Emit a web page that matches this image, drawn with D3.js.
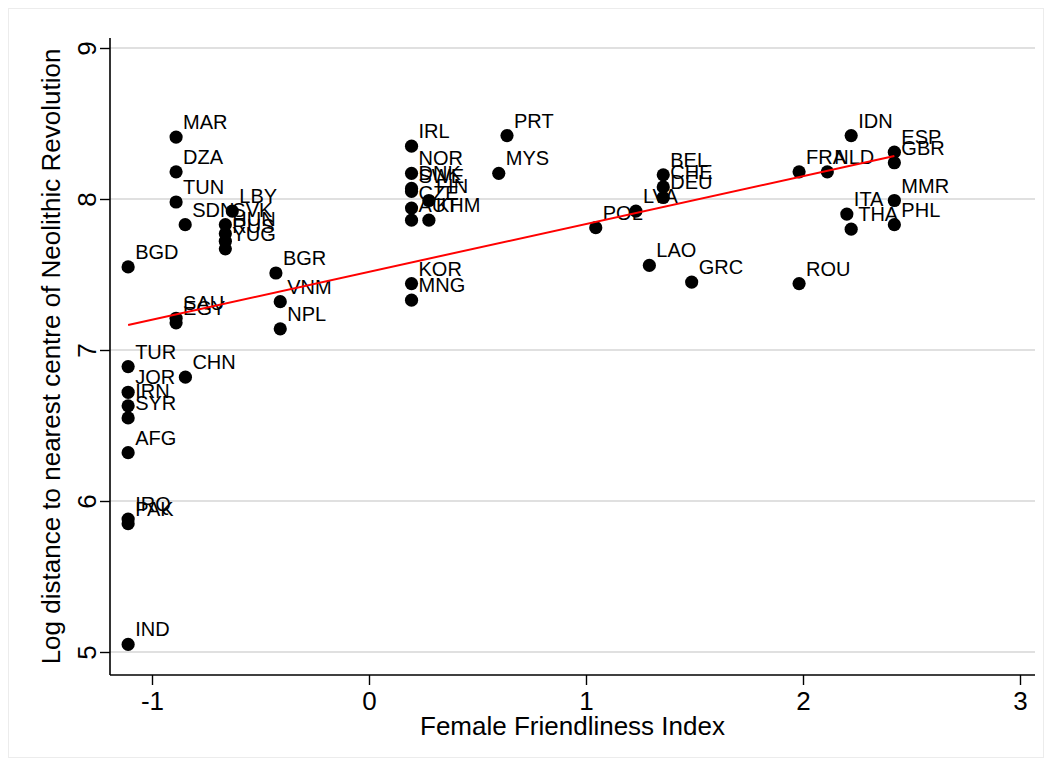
<!DOCTYPE html>
<html><head><meta charset="utf-8">
<script src="https://cdn.jsdelivr.net/npm/d3@7"></script>
<style>
html,body{margin:0;padding:0;background:#fff;}
svg{display:block;font-family:"Liberation Sans",Arial,Helvetica,sans-serif;}
</style></head>
<body>
<svg id="chart" width="1052" height="766"></svg>
<script>
// Country codes, Female Friendliness Index (x), log distance (y)
const countries = ["MAR","DZA","TUN","SDN","LBY","SVK","HUN","RUS","YUG","BGD","SAU","EGY","BGR","VNM","NPL",
  "TUR","JOR","IRN","SYR","AFG","CHN","IRQ","PAK","IND",
  "IRL","NOR","DNK","SWE","FIN","CZE","AUT","KHM","KOR","MNG","PRT","MYS",
  "POL","LVA","BEL","CHE","DEU","LAO","GRC","FRA","NLD","IDN","ESP","GBR","ITA","THA","MMR","PHL","ROU"];
const femaleFriendliness = [-0.889,-0.889,-0.889,-0.847,-0.63,-0.662,-0.662,-0.662,-0.662,-1.11,-0.889,-0.889,-0.429,-0.409,-0.409,
  -1.11,-1.11,-1.11,-1.11,-1.11,-0.846,-1.11,-1.11,-1.11,
  0.196,0.196,0.196,0.196,0.276,0.196,0.196,0.276,0.196,0.196,0.636,0.598,
  1.045,1.23,1.356,1.356,1.356,1.292,1.487,1.982,2.112,2.222,2.421,2.421,2.202,2.222,2.421,2.421,1.982];
const logDistance = [8.41,8.18,7.98,7.83,7.92,7.83,7.77,7.72,7.67,7.55,7.21,7.18,7.51,7.32,7.14,
  6.89,6.72,6.63,6.55,6.32,6.82,5.88,5.85,5.05,
  8.35,8.17,8.07,8.05,7.99,7.94,7.86,7.86,7.44,7.33,8.42,8.17,
  7.81,7.92,8.16,8.08,8.01,7.56,7.45,8.18,8.18,8.42,8.31,8.24,7.90,7.80,7.99,7.83,7.44];
// fitted line endpoints
const fitX = [-1.11, 2.421];
const fitY = [7.166, 8.285];
const xTicks = [-1, 0, 1, 2, 3];
const yTicks = [5, 6, 7, 8, 9];
const xTitle = "Female Friendliness Index";
const yTitle = "Log distance to nearest centre of Neolithic Revolution";

const svg = d3.select("#chart");
const L = 110, R = 1035, T = 38, B = 675;

const x = d3.scaleLinear().domain([-1, 3]).range([152, 1020]);
const y = d3.scaleLinear().domain([5, 9]).range([652, 48]);

// outer frame
svg.append("rect").attr("x", 8.5).attr("y", 8.5).attr("width", 1035).attr("height", 749)
  .attr("fill", "#fff").attr("stroke", "#ececec").attr("stroke-width", 1);

// gridlines
svg.append("g").selectAll("line").data(yTicks).join("line")
  .attr("x1", L).attr("x2", R).attr("y1", d => y(d)).attr("y2", d => y(d))
  .attr("stroke", "#d6d6d6").attr("stroke-width", 1.6);

// axes
const gx = svg.append("g").attr("transform", `translate(0,${B})`)
  .call(d3.axisBottom(x).tickValues(xTicks).tickSize(10).tickPadding(6).tickFormat(d3.format("d")));
gx.select(".domain").remove();
gx.selectAll(".tick line").attr("stroke", "#000").attr("stroke-width", 1.4);
gx.selectAll(".tick text").attr("font-size", 26).attr("fill", "#000")
  .attr("font-family", "Liberation Sans, Arial, sans-serif").attr("dy", "0.72em")
  .text(d => d < 0 ? "-" + Math.abs(d) : d);

const gy = svg.append("g").attr("transform", `translate(${L},0)`)
  .call(d3.axisLeft(y).tickValues(yTicks).tickSize(10).tickFormat(d3.format("d")));
gy.select(".domain").remove();
gy.selectAll(".tick line").attr("stroke", "#000").attr("stroke-width", 1.4);
gy.selectAll(".tick text").attr("font-size", 26).attr("fill", "#000")
  .attr("font-family", "Liberation Sans, Arial, sans-serif")
  .attr("x", null).attr("dy", null)
  .attr("text-anchor", "middle")
  .attr("transform", "translate(-14,0) rotate(-90)");

svg.append("line").attr("x1", L).attr("x2", L).attr("y1", T).attr("y2", B)
  .attr("stroke", "#000").attr("stroke-width", 1.6);
svg.append("line").attr("x1", L).attr("x2", R).attr("y1", B).attr("y2", B)
  .attr("stroke", "#000").attr("stroke-width", 1.6);

// titles
svg.append("text").attr("x", (L + R) / 2).attr("y", 735).attr("text-anchor", "middle")
  .attr("font-size", 26).text(xTitle);
svg.append("text").attr("transform", `translate(60,${(T + B) / 2}) rotate(-90)`)
  .attr("text-anchor", "middle").attr("font-size", 26).text(yTitle);

// data
const pts = countries.map((c, i) => ({c, x: femaleFriendliness[i], y: logDistance[i]}));

svg.append("g").selectAll("circle").data(pts).join("circle")
  .attr("cx", d => x(d.x)).attr("cy", d => y(d.y)).attr("r", 6.6).attr("fill", "#000");

svg.append("g").selectAll("text").data(pts).join("text")
  .attr("x", d => x(d.x) + 7).attr("y", d => y(d.y) - 8)
  .attr("font-size", 20).attr("fill", "#000").text(d => d.c);

// fit line
const fit = fitX.map((v, i) => [v, fitY[i]]);
svg.append("path").datum(fit)
  .attr("d", d3.line().x(d => x(d[0])).y(d => y(d[1])))
  .attr("stroke", "#ff0000").attr("stroke-width", 2).attr("fill", "none");
</script>
</body></html>
